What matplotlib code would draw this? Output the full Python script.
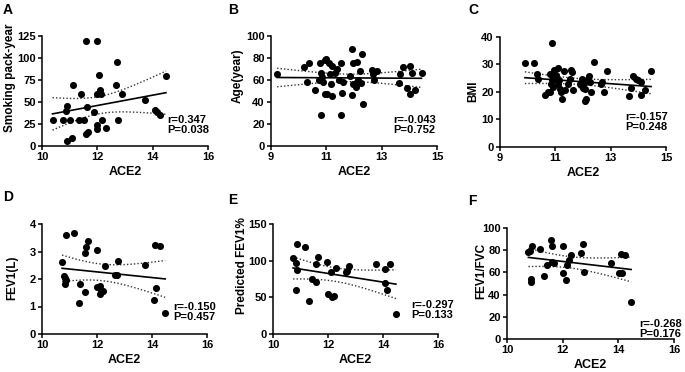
import matplotlib
matplotlib.use('Agg')
import matplotlib.pyplot as plt
import numpy as np

plt.rcParams['font.family'] = ['Liberation Sans', 'DejaVu Sans']
plt.rcParams['font.weight'] = 'bold'

# ---- data ----
a_x = [10.38, 10.76, 10.88, 10.9, 11.0, 10.9, 11.08, 11.12, 11.34, 11.4, 11.5, 11.58,
       11.62, 11.58, 11.68, 11.88, 11.98, 12.0, 11.98, 12.0, 12.06, 12.1, 12.14, 12.16,
       12.3, 12.66, 12.72, 12.76, 12.88, 13.74, 14.08, 14.16, 14.28, 14.48]
a_y = [29, 29, 40, 45, 29, 6, 9.5, 69, 29, 59, 29, 119,
       44, 14, 16, 39, 59, 119, 23.5, 19, 81, 64, 59, 29,
       20, 69, 95, 29, 59, 52, 41, 39, 35, 79]

b_x = [9.22, 10.2, 10.36, 10.3, 10.6, 10.75, 10.78, 10.8, 10.8, 10.82, 10.84, 10.88,
       10.96, 11.0, 10.96, 11.02, 11.08, 11.14, 11.2, 11.16, 11.22, 11.32, 11.38, 11.46,
       11.54, 11.54, 11.56, 11.62, 11.86, 11.92, 11.95, 11.94, 11.98, 12.06, 12.1, 12.12,
       12.16, 12.2, 12.26, 12.3, 12.34, 12.64, 12.68, 12.72, 12.82, 13.64, 13.68, 13.78,
       13.9, 14.02, 14.04, 14.1, 14.22, 14.44]
b_y = [65, 72, 75.5, 58, 51, 60, 75, 28.5, 66, 60, 63, 58,
       78.5, 79, 47.5, 47.5, 75, 65, 73, 56, 45.5, 66, 70, 60,
       75, 28, 48.5, 58, 64, 88.5, 75.5, 46.7, 56.7, 54, 76, 58,
       60, 68, 57, 84, 38.5, 69, 65, 60, 68, 57, 65, 72,
       53, 72.5, 47.5, 66, 50.6, 66]

c_x = [9.9, 10.24, 10.32, 10.39, 10.62, 10.74, 10.81, 10.82, 10.87, 10.86, 10.88, 10.92,
       10.96, 10.98, 11.04, 11.08, 11.1, 11.14, 11.18, 11.22, 11.24, 11.32, 11.36, 11.44,
       11.52, 11.56, 11.6, 11.64, 11.88, 11.94, 11.98, 12.0, 12.06, 12.04, 12.06, 12.1,
       12.13, 12.2, 12.25, 12.3, 12.4, 12.64, 12.68, 12.76, 12.87, 13.68, 13.72, 13.8,
       13.92, 14.0, 14.08, 14.1, 14.24, 14.46]
c_y = [30.7, 30.7, 26.5, 24.8, 18.8, 19.9, 20.1, 26.5, 37.7, 23, 24.2, 21.8,
       28, 24.8, 26, 28.8, 23, 24.2, 21.2, 20, 17.6, 27.6, 20.6, 22.8,
       24.8, 28, 27.2, 20.6, 23, 22.4, 24.8, 21.6, 21.2, 23.3, 16.7, 17.6,
       24.2, 25.7, 23.6, 20, 31, 23, 23.6, 20, 27.7, 18.4, 21.6, 25.7,
       24.8, 24.2, 23.6, 19, 20.6, 27.8]

d_x = [10.73, 10.86, 10.8, 10.84, 10.88, 10.84, 11.18, 11.33, 11.39, 11.55, 11.55, 11.6,
       11.66, 12.0, 12.0, 12.12, 12.15, 12.12, 12.2, 12.3, 12.67, 12.73, 12.76, 13.76,
       14.06, 14.1, 14.16, 14.28, 14.48]
d_y = [2.62, 3.59, 2.11, 2.03, 1.97, 1.82, 3.67, 1.12, 1.81, 1.54, 2.93, 3.16,
       3.4, 3.06, 1.71, 1.76, 1.58, 1.47, 1.57, 2.48, 2.13, 2.15, 2.64, 2.52,
       1.23, 3.24, 1.69, 3.2, 0.77]

e_x = [10.73, 10.82, 10.87, 10.87, 10.84, 11.18, 11.4, 11.31, 11.55, 11.58, 11.65, 11.98,
       12.0, 12.12, 12.16, 12.2, 12.3, 12.64, 12.7, 12.76, 13.75, 14.07, 14.07, 14.14,
       14.27, 14.47]
e_y = [103, 97, 123, 87, 60, 119, 75, 45.5, 70.5, 95.5, 105.5, 98.6,
       54, 84, 50.5, 52, 90.5, 85, 86, 93, 96, 88, 69, 59.5,
       95, 26.8]

f_x = [10.77, 10.84, 10.9, 10.86, 10.88, 11.19, 11.33, 11.42, 11.58, 11.6, 11.62, 11.68,
       12.0, 12.01, 12.13, 12.14, 12.22, 12.3, 12.66, 12.72, 12.76, 13.74, 14.08, 14.04,
       14.12, 14.25, 14.46]
f_y = [78, 79.5, 84, 54.5, 51, 81, 56.6, 66.5, 89.5, 83.5, 69.5, 68.6,
       83.5, 59.6, 53.6, 66.5, 71, 76, 77.5, 85.3, 60.5, 68.6, 76.3, 59.6,
       59.6, 75.5, 33]

letters = ['A', 'B', 'C', 'D', 'E', 'F']
ylabels = ['Smoking pack-year', 'Age(year)', 'BMI', 'FEV1(L)', 'Predicted FEV1%', 'FEV1/FVC']
stats = ['r=0.347\nP=0.038', 'r=-0.043\nP=0.752', 'r=-0.157\nP=0.248',
         'r=-0.150\nP=0.457', 'r=-0.297\nP=0.133', 'r=-0.268\nP=0.176']
xticks = [[10, 12, 14, 16], [9, 11, 13, 15], [9, 11, 13, 15],
          [10, 12, 14, 16], [10, 12, 14, 16], [10, 12, 14, 16]]
yticks = [[0, 25, 50, 75, 100, 125], [0, 20, 40, 60, 80, 100], [0, 10, 20, 30, 40],
          [0, 1, 2, 3, 4], [0, 50, 100, 150], [0, 20, 40, 60, 80, 100]]
xs_all = [a_x, b_x, c_x, d_x, e_x, f_x]
ys_all = [a_y, b_y, c_y, d_y, e_y, f_y]

# ---- layout (pixel measurements of the reference) ----
W, H = 685, 372
boxes = [(42, 36, 166, 110), (271, 36, 166, 110), (500, 37, 166, 110),
         (42, 224, 165, 110), (273, 224, 165, 110), (507, 228, 167, 111)]
letter_pos = [(3, 10), (228, 10), (468, 10), (3, 197), (228, 200), (468, 201)]
# right edge / vertical centre of the r,P block, in axes fractions
stat_pos = [(1.01, 0.19), (0.995, 0.19), (1.01, 0.23), (1.055, 0.2), (1.10, 0.22), (1.05, 0.09)]
ylab_pos = [(-0.19, 0.62), (-0.2, 0.64), (-0.16, 0.51), (-0.18, 0.51), (-0.19, 0.62), (-0.155, 0.61)]


def t975(df):
    z = 1.959964
    return z + (z**3 + z) / (4 * df) + (5 * z**5 + 16 * z**3 + 3 * z) / (96 * df**2)


fig = plt.figure(figsize=(W / 100, H / 100), dpi=100)

for i in range(6):
    x0, y0, w, h = boxes[i]
    ax = fig.add_axes([x0 / W, 1 - (y0 + h) / H, w / W, h / H])
    x = np.array(xs_all[i])
    y = np.array(ys_all[i])

    ax.scatter(x, y, s=26, color='black', zorder=3, clip_on=False, linewidths=0)

    # linear fit with 95% confidence band
    n = len(x)
    slope, inter = np.polyfit(x, y, 1)
    xx = np.linspace(x.min(), x.max(), 100)
    yy = slope * xx + inter
    resid = y - (slope * x + inter)
    s = np.sqrt(np.sum(resid**2) / (n - 2))
    sxx = np.sum((x - x.mean())**2)
    band = t975(n - 2) * s * np.sqrt(1 / n + (xx - x.mean())**2 / sxx)
    ax.plot(xx, yy, color='black', lw=1.2, zorder=2)
    ax.plot(xx, yy + band, color='#333333', lw=1.0, ls=(0, (1, 1.5)), zorder=2)
    ax.plot(xx, yy - band, color='#333333', lw=1.0, ls=(0, (1, 1.5)), zorder=2)

    ax.set_xlim(xticks[i][0], xticks[i][-1])
    ax.set_ylim(yticks[i][0], yticks[i][-1])
    ax.set_xticks(xticks[i])
    ax.set_yticks(yticks[i])
    ax.tick_params(labelsize=8, length=3, width=1.1, pad=1.5, direction='out')
    for lab in ax.get_xticklabels() + ax.get_yticklabels():
        lab.set_fontweight('bold')
    for sp in ['top', 'right']:
        ax.spines[sp].set_visible(False)
    for sp in ['left', 'bottom']:
        ax.spines[sp].set_linewidth(1.1)

    ax.set_xlabel('ACE2', fontsize=9, fontweight='bold', labelpad=3)
    ax.set_ylabel(ylabels[i], fontsize=8.5, fontweight='bold', va='center')
    ax.yaxis.set_label_coords(*ylab_pos[i])

    ax.text(stat_pos[i][0], stat_pos[i][1], stats[i], transform=ax.transAxes,
            ha='right', va='center', multialignment='left', fontsize=8,
            fontweight='bold', linespacing=0.95, clip_on=False)

    fig.text(letter_pos[i][0] / W, 1 - letter_pos[i][1] / H, letters[i],
             ha='left', va='center', fontsize=10, fontweight='bold')

fig.savefig('out.png', dpi=100)
